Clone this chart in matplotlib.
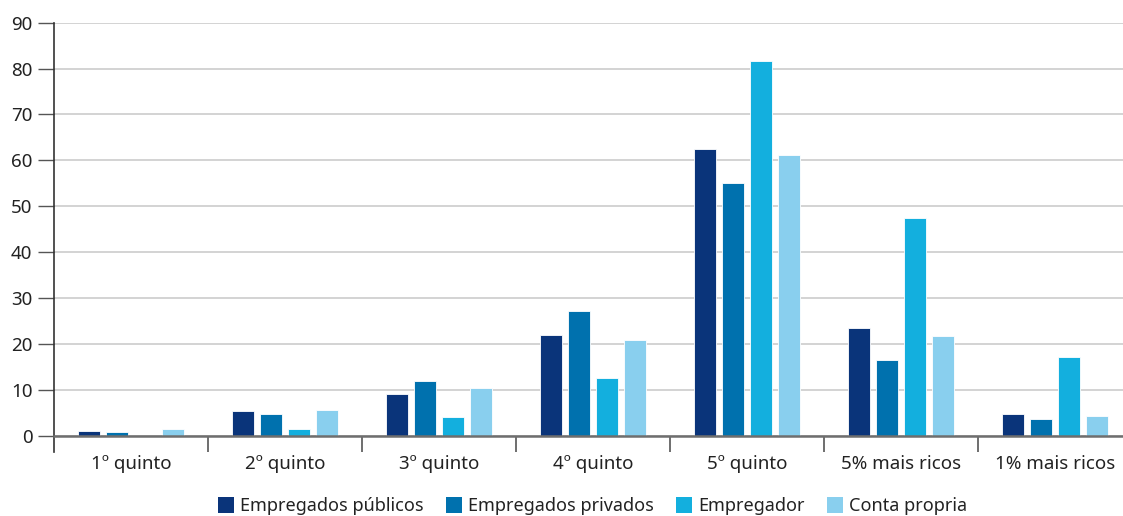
import matplotlib
matplotlib.use("Agg")
import matplotlib.pyplot as plt
import numpy as np
from matplotlib.patches import Patch

plt.rcParams['font.family'] = ['Noto Sans', 'DejaVu Sans']

categories = ["1º quinto", "2º quinto", "3º quinto", "4º quinto",
              "5º quinto", "5% mais ricos", "1% mais ricos"]
series_names = ["Empregados públicos", "Empregados privados", "Empregador", "Conta propria"]
empregados_publicos = [1.0, 5.3, 9.1, 22.0, 62.5, 23.4, 4.7]
empregados_privados = [0.8, 4.8, 11.9, 27.2, 55.0, 16.6, 3.6]
empregador = [0.0, 1.4, 4.1, 12.6, 81.6, 47.4, 17.2]
conta_propria = [1.5, 5.6, 10.4, 20.9, 61.2, 21.7, 4.3]
series = [empregados_publicos, empregados_privados, empregador, conta_propria]
colors = ["#0a347a", "#0071ae", "#13afde", "#89cfee"]
y_ticks = list(range(0, 91, 10))

W, H = 1123, 516
fig = plt.figure(figsize=(W / 100, H / 100), dpi=100)
left, right, top, bottom = 54, 1132, 22.7, 435.7
ax = fig.add_axes([left / W, (H - bottom) / H, (right - left) / W, (bottom - top) / H])

x = np.arange(len(categories))
pitch = 28 / 154
width = 22 / 154
for i, (vals, c) in enumerate(zip(series, colors)):
    ax.bar(x + (i - 1.5) * pitch, vals, width=width, color=c, zorder=3,
           edgecolor="white", linewidth=0.6)

ax.set_xlim(-0.5, len(categories) - 0.5)
ax.set_ylim(0, 90)
ax.set_yticks(y_ticks)
ax.yaxis.grid(True, color="#cccccc", linewidth=1.2, zorder=0)
ax.set_axisbelow(True)

for s in ["top", "right"]:
    ax.spines[s].set_visible(False)
ax.spines["left"].set_color("#333333")
ax.spines["left"].set_linewidth(1.2)
ax.spines["left"].set_bounds(-3.5, 90)
ax.spines["left"].set_zorder(4)
ax.spines["left"].set_clip_on(False)
ax.spines["bottom"].set_color("#6e6e6e")
ax.spines["bottom"].set_linewidth(1.8)
ax.spines["bottom"].set_zorder(4)

ax.tick_params(axis="y", length=11.5, width=1.0, color="#555555",
               labelsize=13.5, labelcolor="#222222", pad=4)

ax.set_xticks(x)
ax.set_xticklabels(categories)
ax.tick_params(axis="x", which="major", length=0, labelsize=13.5,
               labelcolor="#222222", pad=14)
ax.set_xticks(np.arange(0.5, len(categories) - 0.5, 1.0), minor=True)
ax.tick_params(axis="x", which="minor", length=11.5, width=1.2, color="#555555")

handles = [Patch(facecolor=c, edgecolor="none") for c in colors]
fig.legend(handles, series_names, loc="center", bbox_to_anchor=(0.5276, 1 - 506 / H),
           ncol=4, frameon=False, fontsize=13, handlelength=0.9, handleheight=1.0,
           handletextpad=0.3, columnspacing=1.25, labelcolor="#222222")

fig.savefig("out.png", dpi=100)
